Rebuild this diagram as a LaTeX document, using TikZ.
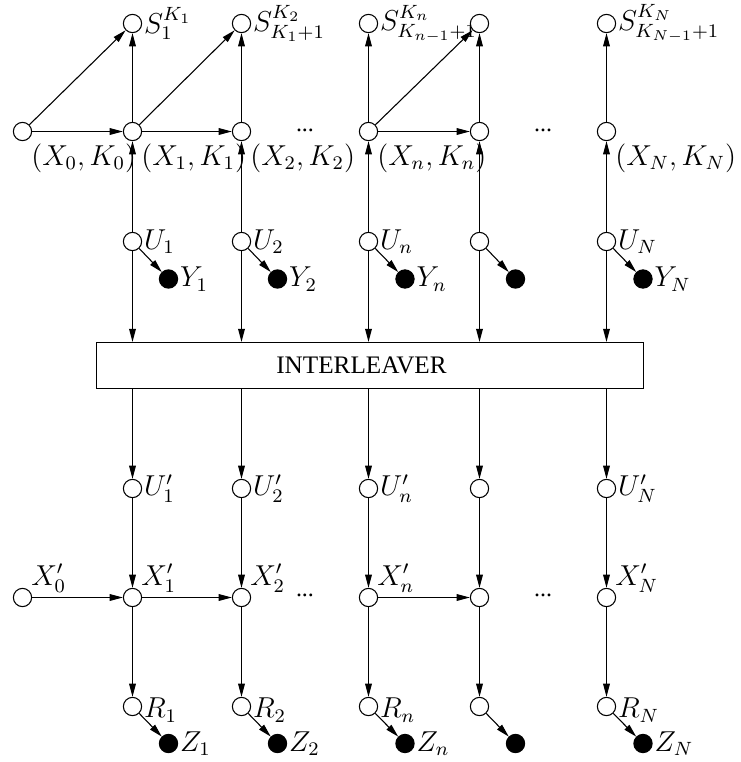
\documentclass[tikz,border=0pt]{standalone}
\usepackage{fontspec}
\newfontfamily\tms{Liberation Serif}
\usetikzlibrary{arrows.meta}

\begin{document}
\begin{tikzpicture}[x=4.1667pt, y=-4.1667pt, line width=.45pt,
	>={Triangle[length=5.5pt,width=2.8pt]}, every edge/.append style={->},
	hid/.style={circle, draw, fill=white, inner sep=0pt, minimum size=7.6pt},
	obs/.style={circle, draw, fill=black, inner sep=0pt, minimum size=7.6pt},
	lb/.style={inner sep=.6pt, font=\fontsize{12}{14}\selectfont},
	lbx/.style={lb, yshift=-1.5pt},
	dots/.style={inner sep=0pt, font=\tms\fontsize{10}{12}\selectfont}]
	
	\useasboundingbox (0,0) rectangle (74.1,76.2);
	
	% Hàng S
	\node[hid, label={[lb]right:$S_1^{K_1}$}] (s1) at (13.25,2.35) {};
	\node[hid, label={[lb]right:$S_{K_1+1}^{K_2}$}] (s2) at (24.15,2.35) {};
	\node[hid, label={[lb]right:$S_{K_{n-1}+1}^{K_n}$}] (sn) at (36.85,2.35) {};
	\node[hid] (s4) at (47.95,2.35) {};
	\node[hid, label={[lb]right:$S_{K_{N-1}+1}^{K_N}$}] (sN) at (60.65,2.35) {};
	
	% Hàng (X,K)
	\node[hid, label={[lbx]south east:{$(X_0,K_0)$}}] (x0) at (2.25,13.15) {};
	\node[hid, label={[lbx]south east:{$(X_1,K_1)$}}] (x1) at (13.25,13.15) {};
	\node[hid, label={[lbx]south east:{$(X_2,K_2)$}}] (x2) at (24.15,13.15) {};
	\node[hid, label={[lbx]south east:{$(X_n,K_n)$}}] (xn) at (36.85,13.15) {};
	\node[hid] (x4) at (47.95,13.15) {};
	\node[hid, label={[lbx]south east:{$(X_N,K_N)$}}] (xN) at (60.65,13.15) {};
	\node[dots] (d1) at (30.5,13) {...};
	\node[dots] (d2) at (54.3,13) {...};
	
	% Hàng U và Y
	\node[hid, label={[lb]right:$U_1$}] (u1) at (13.25,24.15) {};
	\node[hid, label={[lb]right:$U_2$}] (u2) at (24.15,24.15) {};
	\node[hid, label={[lb]right:$U_n$}] (un) at (36.85,24.15) {};
	\node[hid] (u4) at (47.95,24.15) {};
	\node[hid, label={[lb]right:$U_N$}] (uN) at (60.65,24.15) {};
	\node[obs, label={[lb]right:$Y_1$}] (y1) at (16.85,27.9) {};
	\node[obs, label={[lb]right:$Y_2$}] (y2) at (27.75,27.9) {};
	\node[obs, label={[lb]right:$Y_n$}] (yn) at (40.5,27.9) {};
	\node[obs] (y4) at (51.55,27.9) {};
	\node[obs, label={[lb]right:$Y_N$}] (yN) at (64.3,27.9) {};
	
	% Bộ trộn
	\node[draw, inner sep=0pt, minimum width=227.9pt, minimum height=19.17pt] (ilv) at (37,36.55) {};
	\node[inner sep=0pt, font=\tms\fontsize{10.5}{12}\selectfont] (ilvtext) at (36.15,36.55) {INTERLEAVER};
	
	% Hàng U' và X'
	\node[hid, label={[lb]right:$U'_1$}] (uu1) at (13.25,48.85) {};
	\node[hid, label={[lb]right:$U'_2$}] (uu2) at (24.15,48.85) {};
	\node[hid, label={[lb]right:$U'_n$}] (uun) at (36.85,48.85) {};
	\node[hid] (uu4) at (47.95,48.85) {};
	\node[hid, label={[lb]right:$U'_N$}] (uuN) at (60.65,48.85) {};
	\node[hid, label={[lbx]north east:$X'_0$}] (xx0) at (2.25,59.75) {};
	\node[hid, label={[lbx]north east:$X'_1$}] (xx1) at (13.25,59.75) {};
	\node[hid, label={[lbx]north east:$X'_2$}] (xx2) at (24.15,59.75) {};
	\node[hid, label={[lbx]north east:$X'_n$}] (xxn) at (36.85,59.75) {};
	\node[hid] (xx4) at (47.95,59.75) {};
	\node[hid, label={[lbx]north east:$X'_N$}] (xxN) at (60.65,59.75) {};
	\node[dots] (d3) at (30.5,59.5) {...};
	\node[dots] (d4) at (54.3,59.5) {...};
	
	% Hàng R và Z
	\node[hid, label={[lbx]right:$R_1$}] (r1) at (13.25,70.65) {};
	\node[hid, label={[lbx]right:$R_2$}] (r2) at (24.15,70.65) {};
	\node[hid, label={[lbx]right:$R_n$}] (rn) at (36.85,70.65) {};
	\node[hid] (r4) at (47.95,70.65) {};
	\node[hid, label={[lbx]right:$R_N$}] (rN) at (60.65,70.65) {};
	\node[obs, label={[lb]right:$Z_1$}] (z1) at (16.85,74.35) {};
	\node[obs, label={[lb]right:$Z_2$}] (z2) at (27.75,74.35) {};
	\node[obs, label={[lb]right:$Z_n$}] (zn) at (40.5,74.35) {};
	\node[obs] (z4) at (51.55,74.35) {};
	\node[obs, label={[lb]right:$Z_N$}] (zN) at (64.3,74.35) {};
	
	% Các mũi tên phía trên
	\path (x0) edge (x1) (x1) edge (x2) (xn) edge (x4)
	(x0) edge (s1) (x1) edge (s2) (xn) edge (s4);
	\path (x1) edge (s1) (x2) edge (s2) (xn) edge (sn) (x4) edge (s4) (xN) edge (sN);
	\path (u1) edge (x1) (u2) edge (x2) (un) edge (xn) (u4) edge (x4) (uN) edge (xN);
	\path (u1) edge (y1) (u2) edge (y2) (un) edge (yn) (u4) edge (y4) (uN) edge (yN);
	\path (u1) edge (u1 |- ilv.north) (u2) edge (u2 |- ilv.north) (un) edge (un |- ilv.north)
	(u4) edge (u4 |- ilv.north) (uN) edge (uN |- ilv.north);
	
	% Các mũi tên phía dưới
	\path (uu1 |- ilv.south) edge (uu1) (uu2 |- ilv.south) edge (uu2) (uun |- ilv.south) edge (uun)
	(uu4 |- ilv.south) edge (uu4) (uuN |- ilv.south) edge (uuN);
	\path (uu1) edge (xx1) (uu2) edge (xx2) (uun) edge (xxn) (uu4) edge (xx4) (uuN) edge (xxN);
	\path (xx0) edge (xx1) (xx1) edge (xx2) (xxn) edge (xx4);
	\path (xx1) edge (r1) (xx2) edge (r2) (xxn) edge (rn) (xx4) edge (r4) (xxN) edge (rN);
	\path (r1) edge (z1) (r2) edge (z2) (rn) edge (zn) (r4) edge (z4) (rN) edge (zN);
	
\end{tikzpicture}
\end{document}
